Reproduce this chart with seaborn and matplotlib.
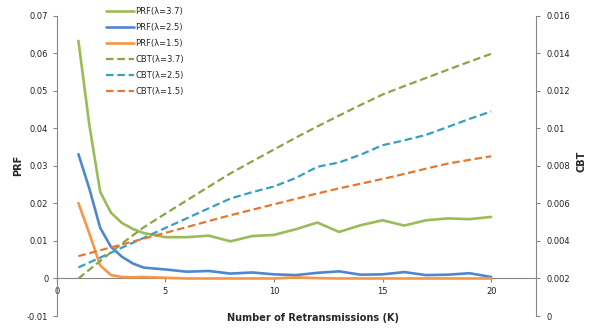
import numpy as np
import pandas as pd
import matplotlib
matplotlib.use("Agg")
import matplotlib.pyplot as plt
from matplotlib.ticker import FuncFormatter
import seaborn as sns

# x positions (number of retransmissions K)
k_prf = [1, 1.5, 2, 2.5, 3, 3.5, 4, 5, 6, 7, 8, 9, 10, 11, 12, 13, 14, 15, 16, 17, 18, 19, 20]
k_cbt = list(range(1, 21))

# PRF (left axis)
prf_37 = [0.0633, 0.041, 0.0231, 0.0175, 0.0148, 0.0132, 0.0121, 0.0110, 0.0110, 0.0114, 0.0099, 0.0113,
          0.0116, 0.0131, 0.0149, 0.0124, 0.0142, 0.0155, 0.0141, 0.0155, 0.0160, 0.0158, 0.0164]
prf_25 = [0.0331, 0.024, 0.0135, 0.0084, 0.0058, 0.0040, 0.0029, 0.0024, 0.0018, 0.0020, 0.0013, 0.0016,
          0.0011, 0.0009, 0.0015, 0.0019, 0.0010, 0.0011, 0.0017, 0.0009, 0.0010, 0.0014, 0.0004]
prf_15 = [0.0201, 0.012, 0.0035, 0.0009, 0.0004, 0.0003, 0.0004, 0.0002, 0.0, 0.0, 0.0, 0.0,
          0.0, 0.0003, 0.0001, 0.0, 0.0, 0.0, 0.0, 0.0, 0.0, 0.0, 0.0]

# CBT (right axis)
cbt_37 = [0.00200, 0.00293, 0.00386, 0.00472, 0.00545, 0.00617, 0.00689, 0.00760, 0.00824, 0.00887,
          0.00950, 0.01010, 0.01068, 0.01125, 0.01180, 0.01225, 0.01268, 0.01312, 0.01355, 0.01397]
cbt_25 = [0.00259, 0.00311, 0.00364, 0.00416, 0.00469, 0.00521, 0.00574, 0.00626, 0.00660, 0.00690,
          0.00735, 0.00795, 0.00818, 0.00860, 0.00910, 0.00936, 0.00965, 0.01007, 0.01050, 0.01090]
cbt_15 = [0.00319, 0.00350, 0.00381, 0.00412, 0.00443, 0.00474, 0.00506, 0.00537, 0.00566, 0.00595,
          0.00624, 0.00653, 0.00680, 0.00705, 0.00730, 0.00757, 0.00785, 0.00812, 0.00832, 0.00851]

left_ticks = [-0.01, 0, 0.01, 0.02, 0.03, 0.04, 0.05, 0.06, 0.07]
right_ticks = [0, 0.002, 0.004, 0.006, 0.008, 0.01, 0.012, 0.014, 0.016]
x_ticks = [0, 5, 10, 15, 20]

sns.set_style("white")
plt.rcParams["font.family"] = ["DejaVu Sans"]

green, blue, orange = "#9BBB59", "#4F86D0", "#F79646"
green_d, teal_d, orange_d = "#8AA644", "#3A9FBF", "#E4782F"
axis_gray = "#868686"

fig = plt.figure(figsize=(5.95, 3.3), dpi=100)
ax = fig.add_axes([0.0953, 0.0424, 0.805, 0.91])
ax2 = ax.twinx()

prf = pd.DataFrame({"K": k_prf, "p37": prf_37, "p25": prf_25, "p15": prf_15})
cbt = pd.DataFrame({"K": k_cbt, "c37": cbt_37, "c25": cbt_25, "c15": cbt_15})

solid_lw = 1.9
dash_lw = 1.6

sns.lineplot(data=prf, x="K", y="p37", color=green, lw=solid_lw, ax=ax, label="PRF(λ=3.7)", zorder=3)
sns.lineplot(data=prf, x="K", y="p25", color=blue, lw=solid_lw, ax=ax, label="PRF(λ=2.5)", zorder=3)
sns.lineplot(data=prf, x="K", y="p15", color=orange, lw=solid_lw, ax=ax, label="PRF(λ=1.5)", zorder=3)
sns.lineplot(data=cbt, x="K", y="c37", color=green_d, lw=dash_lw, ax=ax2, label="CBT(λ=3.7)", zorder=3)
sns.lineplot(data=cbt, x="K", y="c25", color=teal_d, lw=dash_lw, ax=ax2, label="CBT(λ=2.5)", zorder=3)
sns.lineplot(data=cbt, x="K", y="c15", color=orange_d, lw=dash_lw, ax=ax2, label="CBT(λ=1.5)", zorder=3)
for line in ax2.lines:
    line.set_linestyle((0, (3.4, 1.7)))
    line.set_dash_capstyle("butt")

ax.set_xlim(0, 22.05)
ax.set_ylim(-0.01, 0.07)
ax2.set_ylim(0, 0.016)

def fmt(v, pos):
    s = f"{v:.3f}".rstrip("0").rstrip(".")
    return "0" if s in ("-0", "") else s

ax.set_yticks(left_ticks)
ax2.set_yticks(right_ticks)
ax.set_xticks(x_ticks)
ax.yaxis.set_major_formatter(FuncFormatter(fmt))
ax2.yaxis.set_major_formatter(FuncFormatter(fmt))

for a in (ax, ax2):
    for s in a.spines.values():
        s.set_visible(False)
    a.grid(False)
ax.spines["left"].set_visible(True)
ax.spines["left"].set_color(axis_gray)
ax.spines["bottom"].set_visible(True)
ax.spines["bottom"].set_color(axis_gray)
ax.spines["bottom"].set_position(("data", 0))
ax.spines["bottom"].set_zorder(1)
ax2.spines["right"].set_visible(True)
ax2.spines["right"].set_color(axis_gray)

ax.tick_params(axis="y", left=True, length=3, width=0.8, color=axis_gray, pad=3, labelsize=6, labelcolor="#222222")
ax.tick_params(axis="x", bottom=True, length=3, width=0.8, color=axis_gray, pad=3, labelsize=6, labelcolor="#222222")
ax2.tick_params(axis="y", right=True, length=3, width=0.8, color=axis_gray, pad=5, labelsize=6, labelcolor="#222222")

ax.set_xlabel("Number of Retransmissions (K)", fontsize=7, fontweight="bold")
ax.xaxis.set_label_coords(0.535, -0.005)
ax.xaxis.label.set_va("center")
ax.set_ylabel("PRF", fontsize=7, fontweight="bold")
ax.yaxis.set_label_coords(-0.081, 0.503)
ax.yaxis.label.set_va("center")
ax2.set_ylabel("CBT", fontsize=7, fontweight="bold")
ax2.yaxis.set_label_coords(1.095, 0.516)
ax2.yaxis.label.set_va("center")

h1, l1 = ax.get_legend_handles_labels()
h2, l2 = ax2.get_legend_handles_labels()
ax.get_legend().remove()
ax2.get_legend().remove()
fig.legend(h1 + h2, l1 + l2, loc="upper left", bbox_to_anchor=(106 / 595, 1 - 7 / 330),
           frameon=False, fontsize=6, handlelength=3.4, handletextpad=0.15,
           labelspacing=0.85, borderpad=0, borderaxespad=0)

fig.savefig("out.png", dpi=100)
